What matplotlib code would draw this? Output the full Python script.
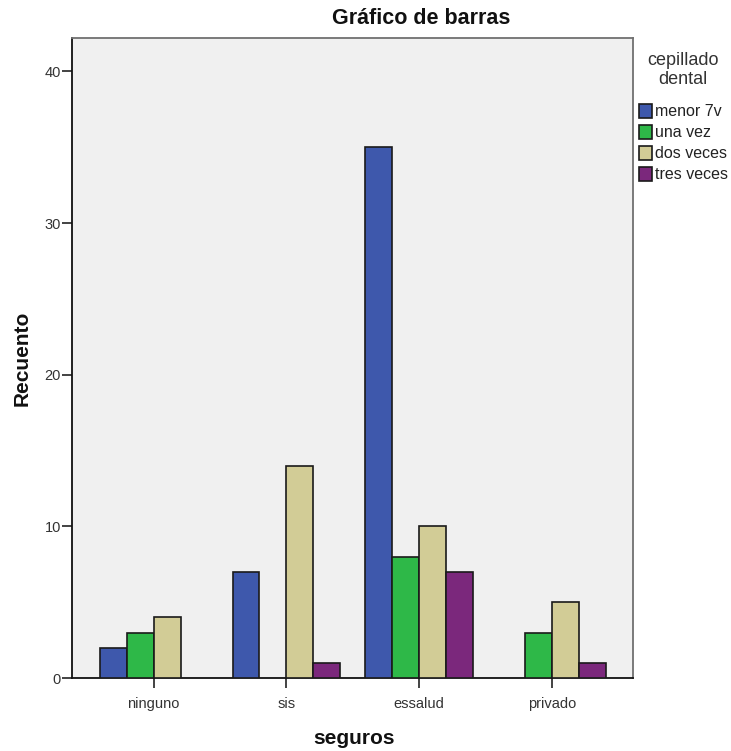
import numpy as np
import matplotlib
matplotlib.use('Agg')
import matplotlib.pyplot as plt
from matplotlib.patches import Patch

plt.rcParams['font.family'] = ['Liberation Sans', 'DejaVu Sans']

# data
seguros = ['ninguno', 'sis', 'essalud', 'privado']
cepillado = ['menor 7v', 'una vez', 'dos veces', 'tres veces']
menor_7v = [2, 7, 35, 0]
una_vez = [3, 0, 8, 3]
dos_veces = [4, 14, 10, 5]
tres_veces = [0, 1, 7, 1]
series = [menor_7v, una_vez, dos_veces, tres_veces]
colores = ['#3E58AC', '#2EB848', '#D2CC96', '#7B287C']
yticks = [0, 10, 20, 30, 40]

W, H = 731, 751
fig = plt.figure(figsize=(W / 100, H / 100), dpi=100)
ax = fig.add_axes([72 / W, 1 - 678 / H, 561 / W, 640 / H])
ax.set_facecolor('#F0F0F0')

x = np.arange(len(seguros))
w = 0.203
for k, (vals, col, lab) in enumerate(zip(series, colores, cepillado)):
    pos = x + (k - 1.5) * w
    vals = np.array(vals, dtype=float)
    # zero counts are not drawn
    mask = vals > 0
    ax.bar(pos[mask], vals[mask], width=w, color=col, edgecolor='#1A1A1A',
           linewidth=1.2, zorder=3)

ax.set_xlim(-0.615, 3.61)
ax.set_ylim(0, 42.2)
ax.set_xticks(x)
ax.set_xticklabels(seguros)
ax.set_yticks(yticks)
ax.tick_params(axis='both', direction='out', length=7, width=1.2,
               labelsize=10.5, colors='#222222', labelcolor='#333333')
ax.tick_params(axis='x', pad=7)
ax.tick_params(axis='y', pad=1)

for s in ['left', 'bottom']:
    ax.spines[s].set_color('#111111')
    ax.spines[s].set_linewidth(1.3)
for s in ['top', 'right']:
    ax.spines[s].set_color('#707070')
    ax.spines[s].set_linewidth(1.3)

# titles placed in pixel positions
fig.text(421 / W, 1 - 19 / H, 'Gráfico de barras', fontsize=15.5,
         fontweight='bold', ha='center', va='center', color='#111111')
fig.text(354 / W, 1 - 738 / H, 'seguros', fontsize=15,
         fontweight='bold', ha='center', va='center', color='#111111')
fig.text(22 / W, 1 - 358 / H, 'Recuento', fontsize=15, rotation=90,
         fontweight='bold', ha='center', va='center', color='#111111')

# legend
fig.text(683 / W, 1 - 70 / H, 'cepillado\ndental', fontsize=13,
         ha='center', va='center', multialignment='center',
         color='#333333', linespacing=1.15)
handles = [Patch(facecolor=c, edgecolor='#1A1A1A', linewidth=1.2) for c in colores]
leg = fig.legend(handles, cepillado, loc='upper left',
                 bbox_to_anchor=(639 / W, 1 - 104 / H), frameon=False,
                 fontsize=11.5, handlelength=0.82, handleheight=0.95,
                 handletextpad=0.2, labelspacing=0.35, borderpad=0,
                 borderaxespad=0)
for t in leg.get_texts():
    t.set_color('#222222')

fig.savefig('out.png', dpi=100)
